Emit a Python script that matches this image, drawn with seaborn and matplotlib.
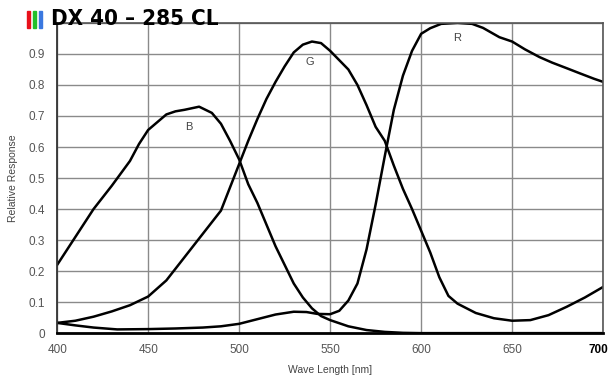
import pandas as pd
import matplotlib.pyplot as plt
import matplotlib.patches as mpatches
import matplotlib.transforms as mtransforms
from matplotlib import font_manager
import seaborn as sns

# spectral response curves
wl_b = [400, 410, 420, 430, 440, 445, 450, 455, 460, 465, 470, 478, 485, 490, 495, 500,
        505, 510, 515, 520, 525, 530, 535, 540, 545, 550, 560, 570, 580, 590, 600, 650, 700]
resp_b = [0.22, 0.31, 0.40, 0.475, 0.555, 0.61, 0.655, 0.68, 0.705, 0.715, 0.72, 0.73, 0.71,
          0.675, 0.62, 0.56, 0.48, 0.42, 0.35, 0.28, 0.22, 0.16, 0.115, 0.08, 0.055, 0.042,
          0.022, 0.01, 0.004, 0.001, 0.0, 0.0, 0.0]

wl_g = [400, 410, 420, 430, 440, 450, 460, 470, 480, 490, 495, 500, 505, 510, 515, 520, 525,
        530, 535, 540, 545, 550, 555, 560, 565, 570, 575, 580, 585, 590, 595, 600, 605, 610,
        615, 620, 625, 630, 640, 650, 660, 670, 680, 690, 700]
resp_g = [0.033, 0.04, 0.053, 0.07, 0.09, 0.118, 0.17, 0.245, 0.32, 0.395, 0.47, 0.545, 0.62,
          0.69, 0.755, 0.81, 0.86, 0.905, 0.93, 0.94, 0.935, 0.91, 0.88, 0.85, 0.80, 0.735,
          0.665, 0.62, 0.54, 0.465, 0.40, 0.33, 0.26, 0.18, 0.12, 0.095, 0.08, 0.065, 0.048,
          0.04, 0.042, 0.058, 0.085, 0.115, 0.149]

wl_r = [400, 410, 420, 433, 450, 465, 480, 490, 500, 510, 520, 530, 537, 543, 550, 555, 560,
        565, 570, 575, 580, 585, 590, 595, 600, 605, 611, 620, 628, 634, 643, 650, 657, 665,
        672, 680, 687, 695, 700]
resp_r = [0.033, 0.025, 0.018, 0.012, 0.013, 0.015, 0.018, 0.022, 0.03, 0.045, 0.06, 0.069,
          0.068, 0.062, 0.061, 0.072, 0.105, 0.16, 0.27, 0.415, 0.57, 0.72, 0.83, 0.91, 0.965,
          0.983, 0.997, 1.0, 0.997, 0.984, 0.954, 0.94, 0.915, 0.89, 0.872, 0.854, 0.838,
          0.82, 0.81]

x_ticks = [400, 450, 500, 550, 600, 650, 700]
y_ticks = [0, 0.1, 0.2, 0.3, 0.4, 0.5, 0.6, 0.7, 0.8, 0.9]
y_tick_labels = ['0', '0.1', '0.2', '0.3', '0.4', '0.5', '0.6', '0.7', '0.8', '0.9']

df = pd.concat([
    pd.DataFrame({'wl': wl_b, 'resp': resp_b, 'ch': 'B'}),
    pd.DataFrame({'wl': wl_g, 'resp': resp_g, 'ch': 'G'}),
    pd.DataFrame({'wl': wl_r, 'resp': resp_r, 'ch': 'R'}),
])

sns.set_style('white')
plt.rcParams['font.family'] = ['Liberation Sans', 'DejaVu Sans']

fig = plt.figure(figsize=(6.08, 3.76), dpi=100)
ax = fig.add_axes([0.094, 0.114, 0.898, 0.825])

sns.lineplot(data=df, x='wl', y='resp', hue='ch', units='ch', estimator=None,
             palette={'B': 'black', 'G': 'black', 'R': 'black'}, linewidth=1.8,
             legend=False, sort=False, ax=ax)

ax.set_xlim(400, 700)
ax.set_ylim(0, 1.0)
ax.set_xticks(x_ticks)
ax.set_yticks(y_ticks + [1.0])
ax.set_yticklabels(y_tick_labels + [''])
ax.grid(True, color='#8a8a8a', linewidth=1.0)
ax.set_axisbelow(True)
ax.tick_params(axis='y', length=0, labelsize=8.5, labelcolor='#555555', pad=9)
ax.tick_params(axis='x', length=0, labelsize=8.5, labelcolor='#555555', pad=8)
for lbl in ax.get_xticklabels():
    if lbl.get_text() == '700':
        lbl.set_color('black')
        lbl.set_fontweight('bold')
        lbl.set_horizontalalignment('right')
        lbl.set_transform(lbl.get_transform() +
                          mtransforms.ScaledTranslation(5 / 100, 0, fig.dpi_scale_trans))

for side in ['top', 'right']:
    ax.spines[side].set_color('#555555')
    ax.spines[side].set_linewidth(1.2)
ax.spines['left'].set_color('#333333')
ax.spines['left'].set_linewidth(1.3)
ax.spines['bottom'].set_color('black')
ax.spines['bottom'].set_linewidth(2)

ax.set_xlabel('Wave Length [nm]', fontsize=7.5, color='#444444', labelpad=6)
ax.set_ylabel('Relative Response', fontsize=7.5, color='#444444', labelpad=7)

# curve labels
for name, x, y in [('B', 472.5, 0.665), ('G', 539, 0.875), ('R', 620, 0.95)]:
    ax.text(x, y, name, fontsize=8, color='#444444', ha='center', va='center')

# title with little RGB icon
for i, c in enumerate(['#e8101a', '#22c02a', '#3a78e0']):
    fig.patches.append(mpatches.Rectangle(((27 + i * 6) / 608, 1 - 28 / 376), 3.2 / 608, 17 / 376,
                                          transform=fig.transFigure, color=c, zorder=5))

# pick a narrow bold face if one is installed
faces = font_manager.fontManager.ttflist
title_kw = dict(family=['Liberation Sans', 'DejaVu Sans'], fontsize=15)
if any(f.name == 'Liberation Sans Narrow' for f in faces):
    title_kw = dict(family=['Liberation Sans Narrow', 'DejaVu Sans'], fontsize=17)
elif any(f.name == 'DejaVu Sans' and f.stretch == 'condensed' for f in faces):
    title_kw = dict(family=['DejaVu Sans'], fontstretch='condensed', fontsize=16)
fig.text(51 / 608, 1 - 19 / 376, 'DX 40 \u2013 285 CL', fontweight='bold',
         color='black', va='center', ha='left', zorder=6, **title_kw)

fig.savefig('out.png', dpi=100)
